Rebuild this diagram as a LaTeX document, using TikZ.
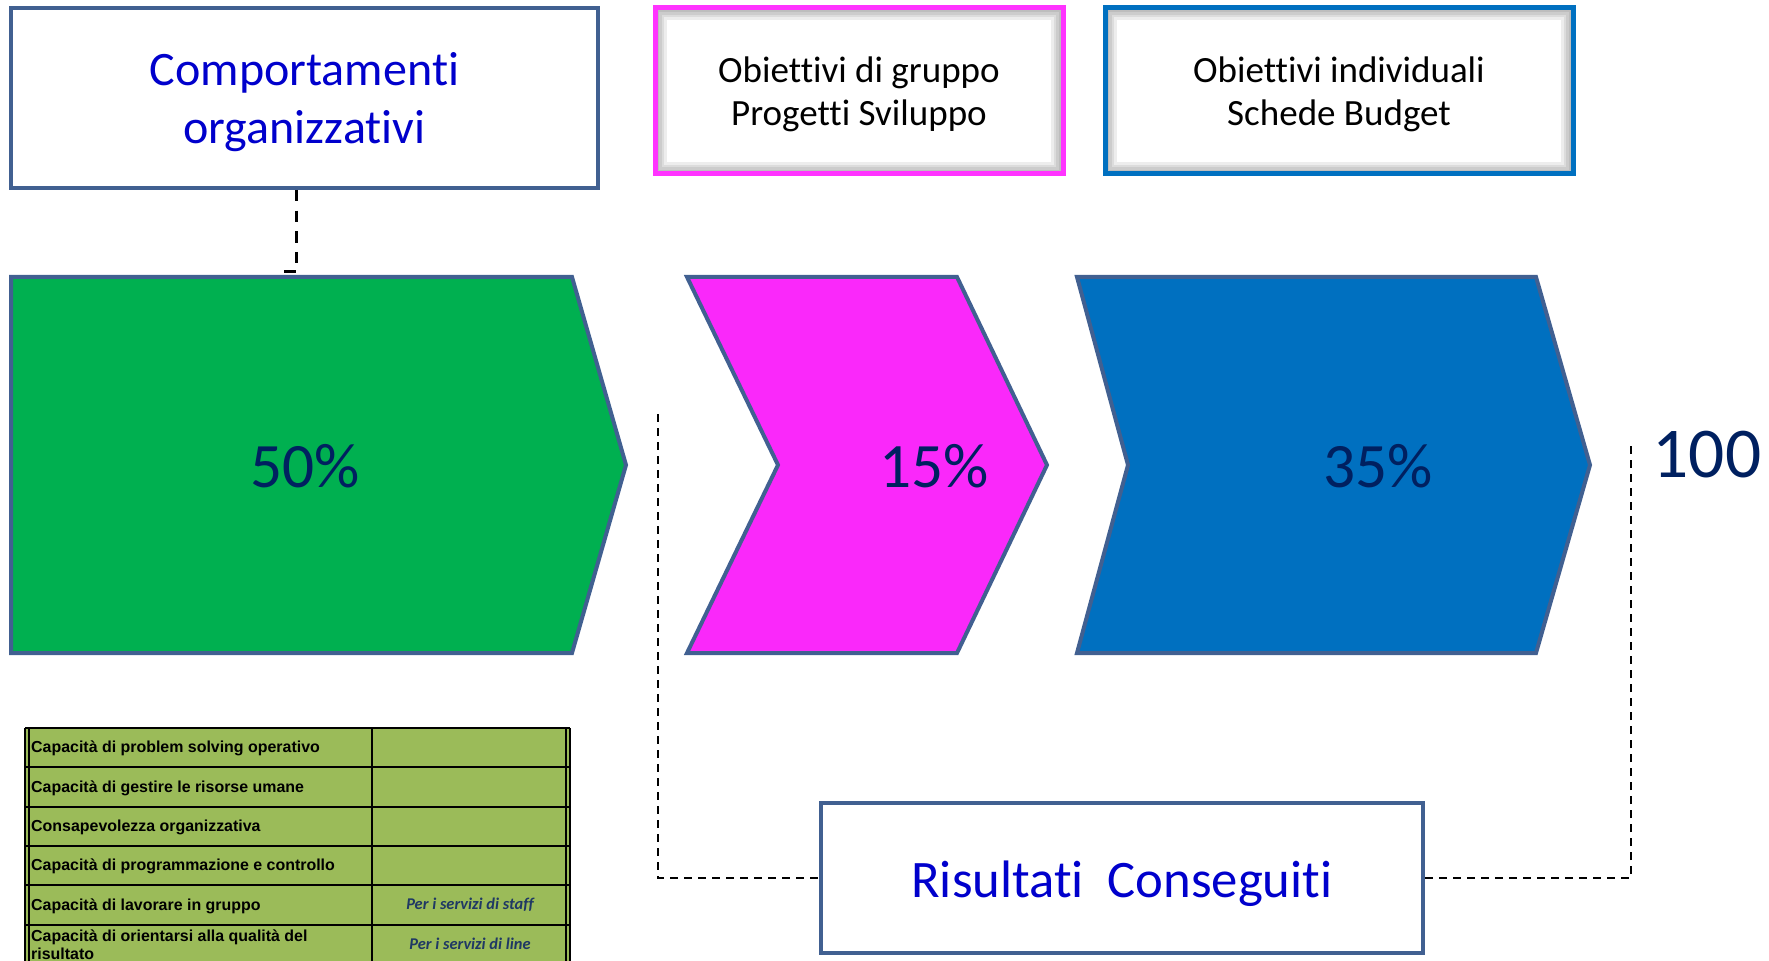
\documentclass[tikz,border=0pt]{standalone}
\usepackage{fontspec}
\setmainfont{Carlito}[Ligatures=NoCommon]
\newfontfamily\arialfont{Liberation Sans}
\definecolor{slate}{RGB}{65,96,145}
\definecolor{grn}{RGB}{0,176,80}
\definecolor{mag}{RGB}{250,40,250}
\definecolor{magline}{RGB}{255,51,255}
\definecolor{blu}{RGB}{0,112,192}
\definecolor{navy}{RGB}{0,32,96}
\definecolor{txtblue}{RGB}{0,0,204}
\definecolor{tabgreen}{RGB}{155,187,89}
\definecolor{ital}{RGB}{31,56,100}
\newcommand{\dn}[2]{\raisebox{-#1}[\height][\depth]{#2}}
\begin{document}
\begin{tikzpicture}[x=0.3mm, y=-0.3mm,
  box/.style={draw=slate, line width=1.2mm, fill=white, align=center, inner sep=0pt},
  softbox/.style={fill=white, align=center, inner sep=0pt, outer sep=0pt,
    font=\fontsize{31.6}{37.5}\selectfont},
  chevron/.style={draw=slate, line width=1.2mm, line join=miter},
  pct/.style={text=navy, font=\fontsize{54}{60}\selectfont},
  link/.style={line width=0.6mm, dash pattern=on 2.4mm off 1.8mm},
  tabtxt/.style={anchor=west, inner sep=0pt, align=left,
    font=\arialfont\bfseries\fontsize{13.6}{15.4}\selectfont},
  note/.style={text=ital, inner sep=0pt, font=\bfseries\itshape\fontsize{14}{16}\selectfont}]
  \useasboundingbox (0,0) rectangle (1769,961);
  \clip (0,0) rectangle (1769,961);

  \node[box, minimum width=176.1mm, minimum height=54mm, text=txtblue,
    font=\fontsize{41}{49}\selectfont] (comp) at (304.5,98)
    {\dn{1.2mm}{Comportamenti}\\\dn{1.2mm}{organizzativi}};
  \node[softbox, minimum width=122.4mm, minimum height=49.8mm] (gruppo) at (859,91)
    {\dn{1mm}{Obiettivi di gruppo}\\\dn{1mm}{Progetti Sviluppo}};
  \node[softbox, minimum width=140.4mm, minimum height=49.8mm] (individ) at (1339,91)
    {\dn{1mm}{Obiettivi individuali}\\\dn{1mm}{Schede Budget}};

  \foreach \b in {gruppo,individ}{
    \begin{scope}
      \clip (\b.north west) rectangle (\b.south east);
      \foreach \w in {7,5.5,4,2.5}
        \draw[black, opacity=0.07, line width=\w mm] (\b.north west) rectangle (\b.south east);
    \end{scope}
  }
  \draw[magline, line width=1.5mm] (gruppo.north west) rectangle (gruppo.south east);
  \draw[blu, line width=1.5mm] (individ.north west) rectangle (individ.south east);

  \filldraw[chevron, fill=grn] (11,277) -- (572,277) -- (626,465) -- (572,653) -- (11,653) -- cycle;
  \filldraw[chevron, fill=mag] (687,277) -- (957,277) -- (1047,465) -- (957,653) -- (687,653) -- (778,465) -- cycle;
  \filldraw[chevron, fill=blu] (1077,277) -- (1536,277) -- (1590,465) -- (1536,653) -- (1077,653) -- (1128,465) -- cycle;

  \node[pct] (p50) at (305,466) {50\%};
  \node[pct] (p15) at (934,466) {15\%};
  \node[pct] (p35) at (1378,466) {35\%};
  \node[text=navy, font=\fontsize{61}{66}\selectfont, inner sep=0pt] (cento) at (1707,455) {100};

  \node[box, minimum width=180.6mm, minimum height=45mm, text=txtblue,
    font=\fontsize{45}{50}\selectfont] (risult) at (1122,878) {\dn{1.6mm}{Risultati\ \ Conseguiti}};

  \coordinate (gtop) at (284,277);
  \coordinate (lstart) at (658,414);
  \coordinate (rend) at (1631,443);
  \draw[link, line width=0.9mm, dash pattern=on 3.4mm off 2.8mm]
    ([xshift=-2.5mm]comp.south) -- ++(0,82) -| (gtop);
  \draw[link] (lstart) |- (risult.west);
  \draw[link] (risult.east) -| (rend);

  \fill[tabgreen] (25,728) rectangle (570,975);
  \foreach \r in {0,...,6}
    \draw[line width=0.6mm] (25,{728+39.3*\r}) -- (570,{728+39.3*\r});
  \draw[line width=0.6mm] (372,728) -- (372,975);
  \foreach \x in {25,29,566,570}
    \draw[line width=0.35mm] (\x,728) -- (\x,975);

  \foreach \txt [count=\i] in {Capacità di problem solving operativo,
      Capacità di gestire le risorse umane, Consapevolezza organizzativa,
      Capacità di programmazione e controllo, Capacità di lavorare in gruppo,
      {Capacità di orientarsi alla qualità del\\risultato}}
    \node[tabtxt] (t\i) at (31,{729+39.3*(\i-0.5)}) {\txt};
  \node[note] (staff) at (470,905) {Per i servizi di staff};
  \node[note] (line) at (470,944) {Per i servizi di line};
\end{tikzpicture}
\end{document}
